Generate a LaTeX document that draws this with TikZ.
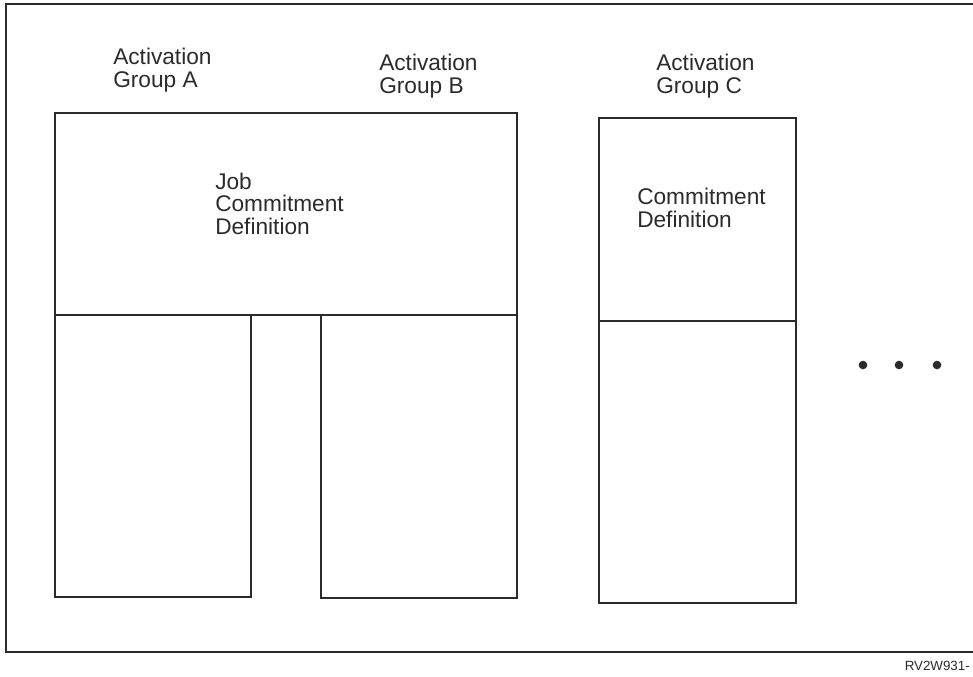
\documentclass[tikz,border=0pt]{standalone}
\usepackage{fontspec}
\setmainfont{Liberation Sans}
\definecolor{inkgray}{HTML}{2B2B2B}
\tikzset{
  boxline/.style={draw=inkgray, line width=0.8pt},
  grouplabel/.style={anchor=base west, inner sep=0pt, align=left, text=inkgray,
    font=\fontsize{17pt}{16.8pt}\selectfont},
  dotmark/.style={fill=inkgray, draw=none}
}
\begin{document}
\begin{tikzpicture}[x=0.75pt,y=-0.75pt]
  \useasboundingbox (0,0) rectangle (973,676);
  % outer frame, open to the right
  \draw[boxline] (973,4) -- (6,4) -- (6,652) -- (973,652);
  % corners of the boxes
  \coordinate (JobNW) at (55,113);  \coordinate (JobSE) at (517,315);
  \coordinate (ANW) at (55,315);    \coordinate (ASE) at (251,597);
  \coordinate (BNW) at (321,315);   \coordinate (BSE) at (517,598);
  \coordinate (CNW) at (599,118);   \coordinate (CMid) at (796,321);
  \coordinate (CLow) at (599,321);  \coordinate (CSE) at (796,603);
  \draw[boxline] (JobNW) rectangle (JobSE);
  \draw[boxline] (ANW) rectangle (ASE) (BNW) rectangle (BSE);
  \draw[boxline] (CNW) rectangle (CMid) (CLow) rectangle (CSE);
  % labels (base = last line)
  \node[grouplabel] (labA) at (113,87) {Activation\\Group A};
  \node[grouplabel] (labB) at (379,93) {Activation\\Group B};
  \node[grouplabel] (labC) at (656,93) {Activation\\Group C};
  \node[grouplabel] (labJob) at (215,234) {Job\\Commitment\\Definition};
  \node[grouplabel] (labCom) at (637,227) {Commitment\\Definition};
  % more groups
  \foreach \px in {863,899,937}
    \fill[dotmark] (\px,365) circle (4.3);
  \node[anchor=base east, inner sep=0pt, text=inkgray,
    font=\fontsize{10pt}{12pt}\selectfont] (figid) at (970,670) {RV2W931-};
\end{tikzpicture}
\end{document}
